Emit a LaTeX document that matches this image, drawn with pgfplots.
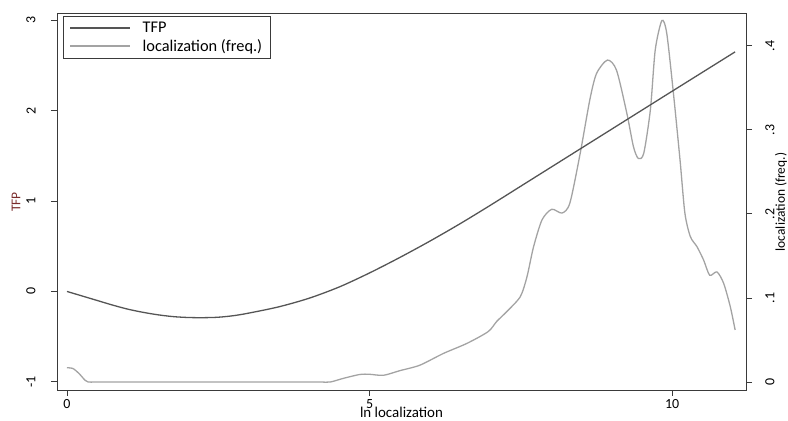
\documentclass[border=0pt]{standalone}
\usepackage{pgfplots}
\pgfplotsset{compat=1.18}
\usepackage{fontspec}
\setmainfont{Carlito}
\definecolor{tfpc}{HTML}{555555}
\definecolor{denc}{HTML}{A3A3A3}
\definecolor{axc}{HTML}{3A3A3A}
\definecolor{labred}{HTML}{7A2B2B}
\begin{document}
\begin{tikzpicture}
\pgfplotsset{every axis/.append style={
  scale only axis, width=689bp, height=377bp,
  xmin=-0.165, xmax=11.22,
  font=\fontsize{16.5}{18}\selectfont,
  tick label style={font=\fontsize{14}{16}\selectfont},
  /pgf/number format/assume math mode=true,
  major tick length=6bp, tick align=outside,
  axis line style={axc, line width=0.8bp},
  every tick/.style={axc, line width=0.8bp},
}}
% right axis: density
\begin{axis}[
  ymin=-0.0095, ymax=0.439,
  axis y line*=right, axis x line=none,
  ytick={0,0.1,0.2,0.3,0.4},
  yticklabels={0,.1,.2,.3,.4},
  yticklabel style={rotate=90, anchor=center, yshift=-18bp},
  ylabel={localization (freq.)},
  ylabel style={font=\fontsize{13.5}{15}\selectfont, inner sep=0pt, at={(axis description cs:1,0.5)}, anchor=center, yshift=-35bp, xshift=-0.5bp},
]
\addplot[denc, line width=1.3bp, smooth, tension=0.45] coordinates {
(0,0.017) (0.1,0.016) (0.2,0.010) (0.3,0.002) (0.35,0) (0.6,0) (1,0) (2,0) (3,0) (4,0) (4.2,0) (4.35,0)
(4.57,0.0044) (4.84,0.009) (5.0,0.0092) (5.23,0.008) (5.5,0.0135)
(5.83,0.020) (6.22,0.034) (6.61,0.046) (6.96,0.060) (7.10,0.072)
(7.27,0.084) (7.49,0.1015) (7.60,0.125) (7.71,0.161) (7.85,0.193)
(8.01,0.2055) (8.18,0.201) (8.31,0.213) (8.48,0.272) (8.64,0.336)
(8.75,0.367) (8.93,0.383) (9.08,0.371) (9.25,0.320) (9.36,0.280)
(9.44,0.266) (9.53,0.272) (9.64,0.324) (9.72,0.395) (9.83,0.430)
(9.91,0.415) (10.02,0.344) (10.13,0.264) (10.21,0.201) (10.30,0.173)
(10.41,0.161) (10.52,0.145) (10.62,0.127) (10.74,0.131) (10.85,0.1175)
(10.96,0.0897) (11.04,0.062)
};
\end{axis}
% left axis: TFP
\begin{axis}[
  ymin=-1.09, ymax=3.08,
  xtick={0,5,10}, ytick={-1,0,1,2,3},
  xtick pos=bottom, ytick pos=left,
  yticklabel style={rotate=90, anchor=center, yshift=20bp},
  xticklabel style={anchor=center, inner sep=0pt, yshift=-8.5bp},
  xlabel={ln localization},
  xlabel style={font=\fontsize{15}{16}\selectfont, inner sep=0pt, at={(axis description cs:0.5,0)}, anchor=center, yshift=-22.5bp},
  ylabel={TFP},
  ylabel style={labred, font=\fontsize{13.5}{15}\selectfont, at={(axis description cs:0,0.5)}, anchor=center, yshift=41bp, xshift=-0.5bp},
  legend cell align=left,
  legend image code/.code={\draw[#1] (0bp,0bp) -- (60bp,0bp); \path (70bp,0bp);},
  legend style={at={(axis description cs:0,1)}, anchor=north west, xshift=6bp, yshift=-3bp,
    draw=axc, line width=0.8bp, fill=white, inner xsep=6bp, inner ysep=3.5bp,
    font=\fontsize{16.4}{18}\selectfont,
    nodes={inner sep=2bp}, row sep=1.5bp},
]
\addplot[tfpc, line width=1.3bp, smooth] coordinates {
(0,0) (0.25,-0.05) (0.5,-0.10) (0.75,-0.15) (1.0,-0.195) (1.25,-0.23)
(1.5,-0.258) (1.75,-0.278) (2.0,-0.288) (2.25,-0.29) (2.5,-0.285)
(2.75,-0.268) (3.0,-0.24) (3.5,-0.17) (4.0,-0.075) (4.5,0.05)
(5.0,0.205) (5.5,0.376) (6.0,0.558) (6.5,0.751) (7.0,0.955)
(7.5,1.165) (8.0,1.375) (9.0,1.795) (10.0,2.215) (11.04,2.65)
};
\addlegendentry{TFP}
\addlegendimage{denc, line width=1.3bp}
\addlegendentry{localization (freq.)}
\end{axis}
\pgfresetboundingbox
\useasboundingbox (-57bp,-31bp) rectangle (731bp,390bp);
\end{tikzpicture}
\end{document}
